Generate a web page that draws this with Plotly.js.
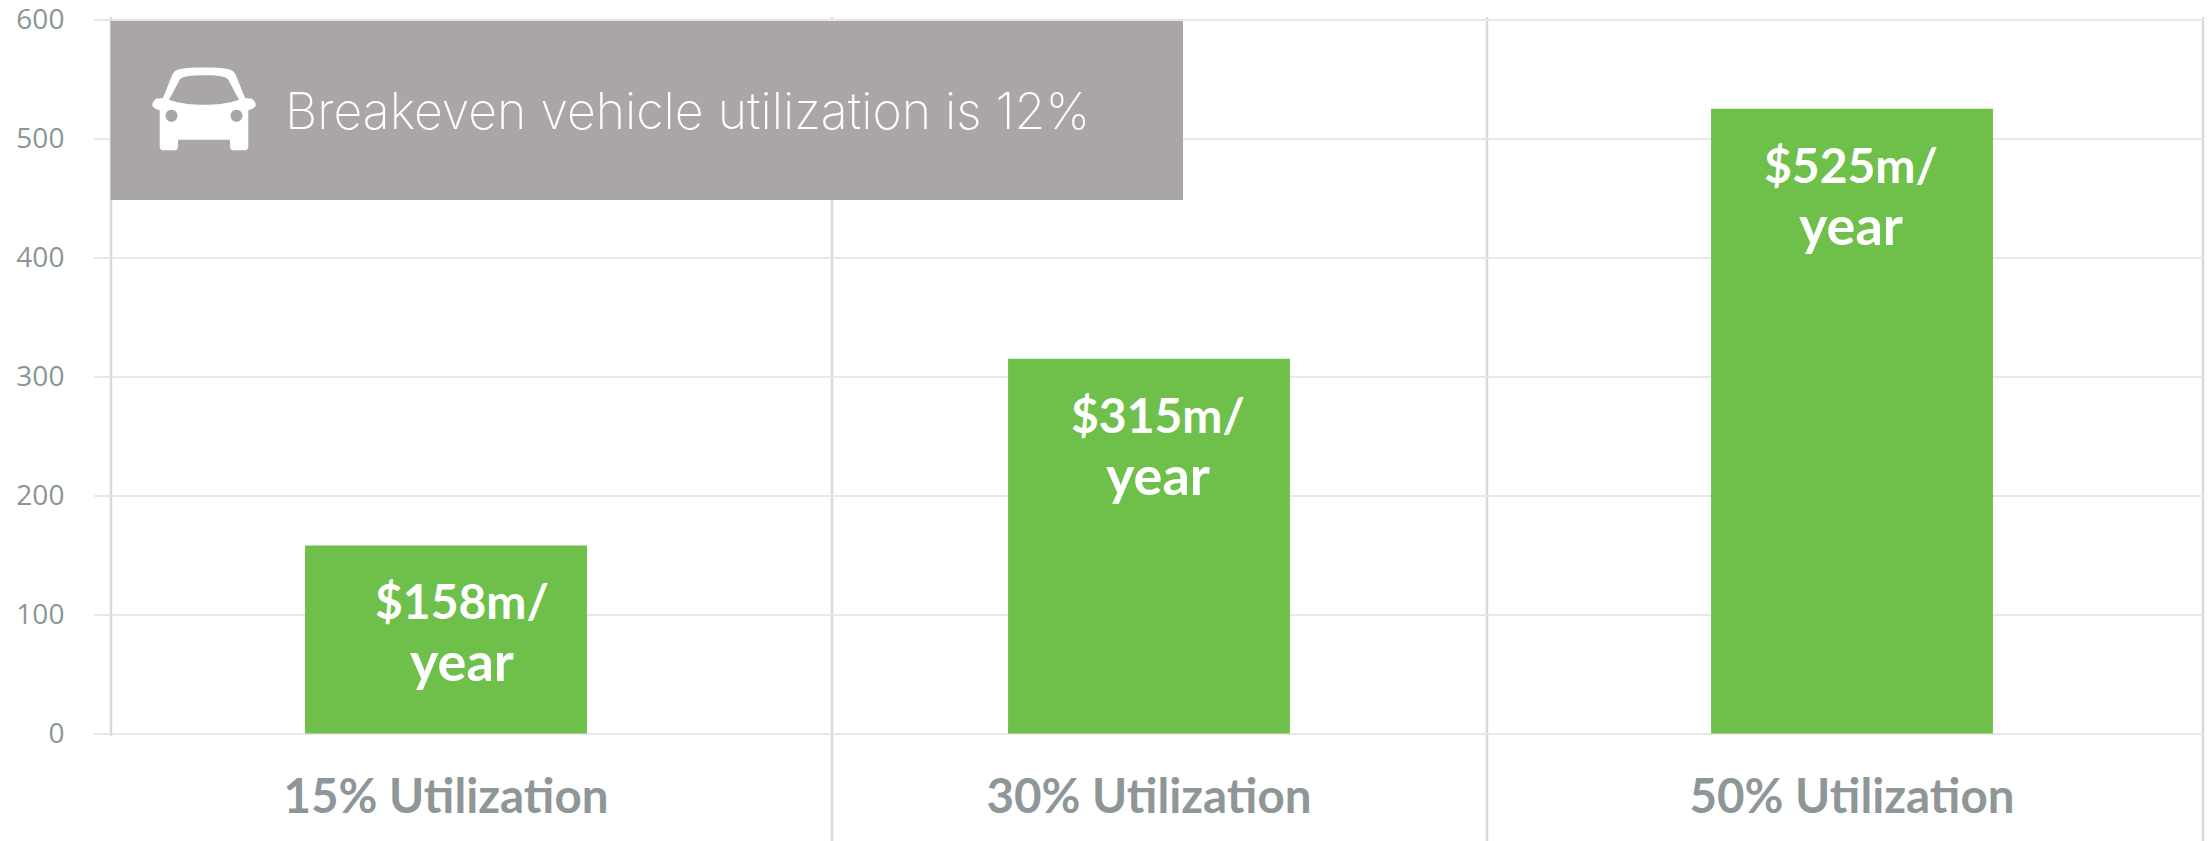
<!DOCTYPE html>
<html><head><meta charset="utf-8">
<script src="https://cdn.plot.ly/plotly-3.0.0.min.js"></script>
<style>html,body{margin:0;padding:0;background:#fff}</style></head>
<body><div id="chart" style="width:2211px;height:841px"></div>
<script>
const categories = ['15% Utilization','30% Utilization','50% Utilization'];
const savings = [158, 315, 525];
const barTop = ['$158m/','$315m/','$525m/'];
const barBottom = ['year','year','year'];
const yTicks = [0,100,200,300,400,500,600];
const bannerText = 'Breakeven vehicle utilization is 12%';

const W=2211,H=841,L=111,R=2203,T=18,B=735;
const px=x=>(x-L)/(R-L), py=y=>(B-y)/(B-T);
const vline=x=>({type:'line',xref:'paper',yref:'paper',x0:px(x),x1:px(x),y0:py(x===L?736:841),y1:py(17),
  line:{color:'#d9d9d9',width:2.5},layer:'below'});
const carPath = 'M0 41.5 C12 41.5 24 41 28 38.5 C31 36.5 32 34 33 31 L41 11 L47.7 10.3 C50 9 52 6 51.7 3.7 C51.5 1.5 49 0 44.3 -1.3 L44.3 -36.3 C44.3 -40 43 -41.3 41 -41.3 L29.3 -41.3 C27 -41.3 26 -40 26 -36.3 L26 -30.7 L-26 -30.7 L-26 -36.3 C-26 -40 -27 -41.3 -29.3 -41.3 L-41 -41.3 C-43 -41.3 -44.3 -40 -44.3 -36.3 L-44.3 -1.3 C-49 0 -51.5 1.5 -51.7 3.7 C-52 6 -50 9 -47.7 10.3 L-41 11 L-33 31 C-32 34 -31 36.5 -28 38.5 C-24 41 -12 41.5 0 41.5 Z '
 +'M0 33.7 C10 33.7 20 33 23 30.5 C24.5 29.5 25 28.5 26 26 L35 9.3 C24 5.5 12 4.3 0 4.3 C-12 4.3 -24 5.5 -35 9.3 L-26 26 C-25 28.5 -24.5 29.5 -23 30.5 C-20 33 -10 33.7 0 33.7 Z '
 +'M-32.5 -0.7 C-29 -0.7 -26.5 -3.5 -26.5 -6.7 C-26.5 -10 -29 -12.7 -32.5 -12.7 C-36 -12.7 -38.5 -10 -38.5 -6.7 C-38.5 -3.5 -36 -0.7 -32.5 -0.7 Z '
 +'M32.5 -0.7 C36 -0.7 38.5 -3.5 38.5 -6.7 C38.5 -10 36 -12.7 32.5 -12.7 C29 -12.7 26.5 -10 26.5 -6.7 C26.5 -3.5 29 -0.7 32.5 -0.7 Z';

const data=[{type:'bar',x:categories,y:savings,width:0.401,marker:{color:'#6fc04b',line:{width:0}},hoverinfo:'x+y'}];

const xshifts=[16,9,-1];
const annotations=categories.map((c,i)=>({x:c,y:savings[i],xref:'x',yref:'y',
  text:barTop[i]+'<br><span style="font-size:54px">'+barBottom[i]+'</span>',showarrow:false,
  xanchor:'center',yanchor:'top',xshift:xshifts[i],yshift:-25,align:'center',
  font:{family:'Lato',size:48,color:'#ffffff',weight:700}}));
annotations.push({xref:'paper',yref:'paper',x:px(283),y:py(111),xanchor:'left',yanchor:'middle',showarrow:false,
  text:bannerText,font:{family:'Inter',size:50,color:'#ffffff',weight:200}});

const cat0=446, catStep=703;
const layout={width:W,height:H,margin:{l:L,r:W-R,t:T,b:H-B,pad:0},paper_bgcolor:'#fff',plot_bgcolor:'#fff',showlegend:false,
 xaxis:{type:'category',range:[(L-cat0)/catStep,(R-cat0)/catStep],showgrid:false,zeroline:false,showline:false,ticks:'',
   tickfont:{family:'Lato',size:47.5,color:'#8e9698',weight:700},ticklabelstandoff:29},
 yaxis:{range:[-1.26,601.26],tickvals:yTicks,ticktext:yTicks.map(String),showgrid:true,gridcolor:'#e7e7e7',gridwidth:2,zeroline:false,showline:false,
   ticks:'outside',ticklen:16,tickwidth:2,tickcolor:'#e7e7e7',ticklabelstandoff:24,ticklabeloverflow:'allow',
   tickfont:{family:'Open Sans',size:28,color:'#8b9597',weight:400}},
 shapes:[vline(L),vline(832),vline(1487),vline(R),
  {type:'rect',xref:'paper',yref:'paper',x0:px(110.5),x1:px(1183),y0:py(200),y1:py(21),fillcolor:'#aaa5a6',line:{width:0},layer:'above'},
  {type:'path',xref:'paper',yref:'paper',xsizemode:'pixel',ysizemode:'pixel',xanchor:px(204),yanchor:py(109),path:carPath,fillcolor:'#ffffff',line:{width:0},layer:'above'}],
 annotations};
Plotly.newPlot('chart',data,layout,{displayModeBar:false,staticPlot:true});
</script></body></html>
